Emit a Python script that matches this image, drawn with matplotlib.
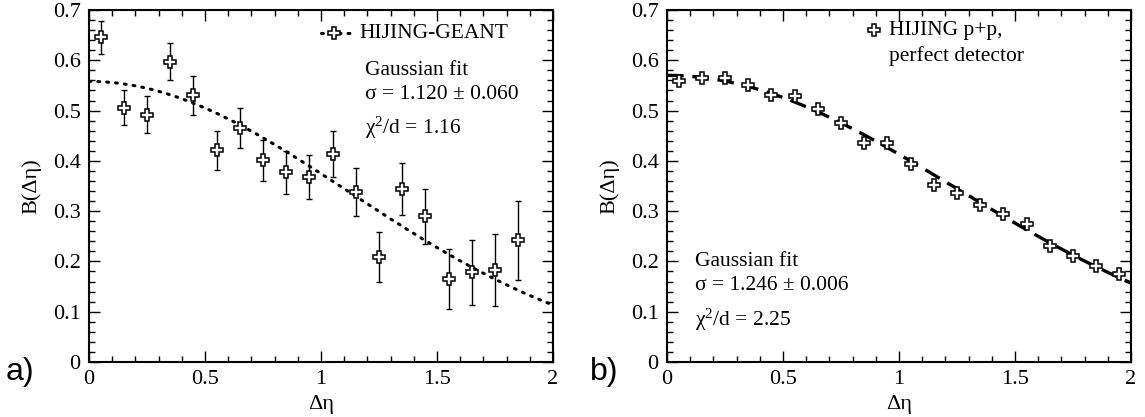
import numpy as np
import matplotlib
matplotlib.use("Agg")
import matplotlib.pyplot as plt
from matplotlib.ticker import MultipleLocator

plt.rcParams['font.family'] = ['Liberation Serif', 'DejaVu Serif']
plt.rcParams['mathtext.fontset'] = 'custom'
plt.rcParams['mathtext.rm'] = 'Liberation Serif'
plt.rcParams['mathtext.it'] = 'Liberation Serif:italic'

# ---- data ----
x_a = [0.05, 0.15, 0.25, 0.35, 0.45, 0.55, 0.65, 0.75, 0.85, 0.95,
       1.05, 1.15, 1.25, 1.35, 1.45, 1.55, 1.65, 1.75, 1.85]
b_a = [0.646, 0.506, 0.492, 0.597, 0.530, 0.421, 0.465, 0.401, 0.377, 0.368,
       0.414, 0.338, 0.209, 0.344, 0.290, 0.165, 0.178, 0.183, 0.242]
err_a = [0.033, 0.035, 0.036, 0.037, 0.038, 0.039, 0.040, 0.041, 0.043, 0.044,
         0.046, 0.048, 0.050, 0.052, 0.055, 0.060, 0.064, 0.071, 0.079]

x_b = [0.05, 0.15, 0.25, 0.35, 0.45, 0.55, 0.65, 0.75, 0.85, 0.95,
       1.05, 1.15, 1.25, 1.35, 1.45, 1.55, 1.65, 1.75, 1.85, 1.95]
b_b = [0.559, 0.565, 0.564, 0.551, 0.530, 0.528, 0.503, 0.476, 0.436, 0.436,
       0.393, 0.351, 0.336, 0.313, 0.295, 0.275, 0.231, 0.210, 0.190, 0.175]

# Gaussian fit parameters (amplitude, sigma)
amp_a, sigma_a = 0.558, 1.120
amp_b, sigma_b = 0.570, 1.246

x_fit = np.linspace(0, 2, 300)

W, H = 1145, 417
fig = plt.figure(figsize=(W/100, H/100), dpi=100)
ax1 = fig.add_axes([89/W, 1-362/H, 464/W, 352/H])
ax2 = fig.add_axes([667/W, 1-362/H, 464/W, 352/H])

FS = 16
TFS = 15.5
mk = dict(marker='P', markersize=9, markerfacecolor='white',
          markeredgecolor='black', markeredgewidth=1.1, linestyle='none')
DOT = (0, (0.6, 2.3))
DASH = (0, (5.0, 2.6))

def style(ax):
    ax.set_xlim(0, 2)
    ax.set_ylim(0, 0.7)
    ax.xaxis.set_minor_locator(MultipleLocator(0.1))
    ax.yaxis.set_minor_locator(MultipleLocator(0.02))
    ax.set_xticks([0, 0.5, 1, 1.5, 2])
    ax.set_xticklabels(['0', '0.5', '1', '1.5', '2'])
    ax.set_yticks([0, 0.1, 0.2, 0.3, 0.4, 0.5, 0.6, 0.7])
    ax.set_yticklabels(['0', '0.1', '0.2', '0.3', '0.4', '0.5', '0.6', '0.7'])
    ax.tick_params(which='both', direction='in', top=True, right=True,
                   labelsize=FS, width=1)
    ax.tick_params(which='major', length=8, pad=6)
    ax.tick_params(which='minor', length=4)
    for s in ax.spines.values():
        s.set_linewidth(1.5)
    ax.set_xlabel('Δη', fontsize=FS, labelpad=4)
    ax.set_ylabel('B(Δη)', fontsize=FS, labelpad=8)

def px(ax, xp, yp):
    # convert figure pixel position to axes fraction
    bb = ax.get_position()
    return ((xp/W - bb.x0)/bb.width, ((1-yp/H) - bb.y0)/bb.height)

# ---- panel a ----
ax = ax1
ax.plot(x_fit, amp_a*np.exp(-x_fit**2/(2*sigma_a**2)), color='black',
        linestyle=DOT, linewidth=2.2, dash_capstyle='round', zorder=2)
ax.errorbar(x_a, b_a, yerr=err_a, fmt='none', ecolor='black', elinewidth=1,
            capsize=2.5, capthick=1, zorder=3)
ax.plot(x_a, b_a, zorder=4, **mk)
style(ax)
# legend (manual)
l0, ly = px(ax, 321, 33)
l1, _ = px(ax, 353, 33)
lm, _ = px(ax, 334, 33)
lt, _ = px(ax, 359, 33)
ax.plot([l0, l1], [ly, ly], transform=ax.transAxes, color='black',
        linestyle=DOT, linewidth=2.2, dash_capstyle='round', clip_on=False)
ax.plot([lm], [ly], transform=ax.transAxes, clip_on=False, **mk)
ax.text(lt, ly, 'HIJING-GEANT', transform=ax.transAxes, fontsize=TFS,
        va='center', ha='left')
ax.text(1.19, 0.580, 'Gaussian fit', fontsize=TFS, va='center', ha='left')
ax.text(1.19, 0.531, 'σ = 1.120 ± 0.060', fontsize=TFS, va='center', ha='left')
ax.text(1.19, 0.465, 'χ$^2$/d = 1.16', fontsize=TFS, va='center', ha='left')
fig.text(6/W, 1-372/H, 'a)', fontsize=23, family='Liberation Sans',
         va='center', ha='left')

# ---- panel b ----
ax = ax2
ax.plot(x_fit, amp_b*np.exp(-x_fit**2/(2*sigma_b**2)), color='black',
        linestyle=DASH, linewidth=2.4, zorder=2)
ax.plot(x_b, b_b, zorder=4, **mk)
style(ax)
bm, by1 = px(ax, 874, 30)
bt, _ = px(ax, 889, 30)
_, by2 = px(ax, 889, 56)
ax.plot([bm], [by1], transform=ax.transAxes, clip_on=False, **mk)
ax.text(bt, by1, 'HIJING p+p,', transform=ax.transAxes, fontsize=TFS,
        va='center', ha='left')
ax.text(bt, by2, 'perfect detector', transform=ax.transAxes, fontsize=TFS,
        va='center', ha='left')
ax.text(0.12, 0.199, 'Gaussian fit', fontsize=TFS, va='center', ha='left')
ax.text(0.12, 0.153, 'σ = 1.246 ± 0.006', fontsize=TFS, va='center', ha='left')
ax.text(0.12, 0.0835, 'χ$^2$/d = 2.25', fontsize=TFS, va='center', ha='left')
fig.text(590/W, 1-372/H, 'b)', fontsize=23, family='Liberation Sans',
         va='center', ha='left')

fig.savefig('out.png', dpi=100)
